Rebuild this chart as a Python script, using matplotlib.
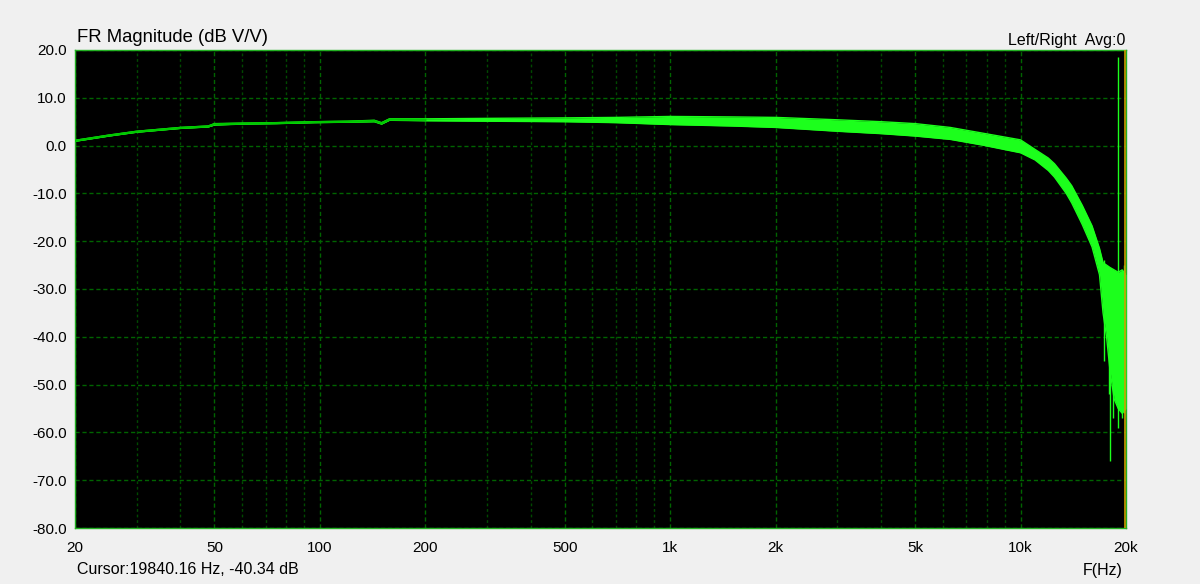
"""
Frequency response magnitude plot (dB V/V), log frequency axis 20 Hz - 20 kHz.
"""

import matplotlib
matplotlib.use("Agg")
import matplotlib.pyplot as plt
from matplotlib.ticker import FixedLocator, NullFormatter

plt.rcParams["font.family"] = ["Liberation Sans", "DejaVu Sans"]

# ── Data: upper / lower edge of the trace ──
freq_hz = [20, 25, 30, 40, 48, 50, 60, 75, 96, 120, 143, 150, 158, 200, 300,
           500, 700, 1000, 1500, 2000, 3000, 4000, 5000, 6300, 7800, 10000,
           11000, 12000, 12500, 13500, 14000, 15000, 16000, 16800, 17200,
           17600, 18000, 18500, 19000, 19500, 20000]
mag_hi = [1.1, 2.2, 3.0, 3.8, 4.1, 4.6, 4.7, 4.8, 5.0, 5.1, 5.3, 4.8, 5.6, 5.6,
          5.7, 5.8, 5.9, 6.1, 6.0, 5.9, 5.4, 5.0, 4.6, 3.8, 2.6, 1.2,
          -0.8, -2.6, -3.8, -6.8, -8.4, -12.5, -16.8, -21.5, -24.5,
          -25.0, -25.5, -26.0, -26.5, -26.0, -27.0]
mag_lo = [0.9, 2.0, 2.8, 3.6, 3.9, 4.3, 4.5, 4.6, 4.8, 4.9, 5.0, 4.5, 5.3, 5.2,
          5.1, 5.0, 4.8, 4.4, 4.1, 3.8, 3.0, 2.5, 2.0, 1.3, 0.1, -1.5,
          -3.0, -5.2, -6.6, -10.0, -12.0, -16.5, -21.2, -27.0, -35.0,
          -40.0, -47.0, -53.0, -55.0, -56.0, -55.0]

# isolated spikes in the roll-off region
spike_hz = [17300, 17900, 18020, 18400, 18990, 19500, 19800]
spike_top = [-24.0, -30.0, -30.0, -28.0, 18.5, -27.0, -25.0]
spike_bot = [-45.0, -52.0, -66.0, -57.0, -59.0, -57.0, -56.0]

cursor_hz = 19840.16
cursor_db = -40.34

x_ticks = [20, 50, 100, 200, 500, 1000, 2000, 5000, 10000, 20000]
x_labels = ["20", "50", "100", "200", "500", "1k", "2k", "5k", "10k", "20k"]
x_minor = [30, 40, 60, 70, 80, 90, 300, 400, 600, 700, 800, 900,
           3000, 4000, 6000, 7000, 8000, 9000]
y_ticks = list(range(-80, 21, 10))

W, H = 1200, 584
fig = plt.figure(figsize=(W / 100, H / 100), dpi=100, facecolor="#f0f0f0")
ax = fig.add_axes([75 / W, 1 - 528 / H, (1126 - 75) / W, (528 - 50) / H])
ax.set_facecolor("black")

trace = "#1cff1c"
ax.fill_between(freq_hz, mag_lo, mag_hi, color=trace, linewidth=0, zorder=3)
ax.plot(freq_hz, mag_hi, color=trace, linewidth=1.0, zorder=3)
ax.plot(freq_hz, mag_lo, color=trace, linewidth=1.0, zorder=3)
ax.vlines(spike_hz, spike_bot, spike_top, color=trace, linewidth=1.0, zorder=3)

# the quiet low-frequency part is drawn as a thinner, darker line
n_low = freq_hz.index(300)
low_mid = [(a + b) / 2 for a, b in zip(mag_hi[:n_low], mag_lo[:n_low])]
ax.plot(freq_hz[:n_low], low_mid, color="#00c800", linewidth=1.6, zorder=4)

# cursor marker
ax.axvline(cursor_hz, color="#c8a000", linewidth=1.2, zorder=4)

ax.set_xscale("log")
ax.set_xlim(20, 20000)
ax.set_ylim(-80, 20)

ax.xaxis.set_major_locator(FixedLocator(x_ticks))
ax.xaxis.set_minor_locator(FixedLocator(x_minor))
ax.xaxis.set_minor_formatter(NullFormatter())
ax.set_xticklabels(x_labels)
ax.set_yticks(y_ticks)
ax.set_yticklabels([f"{v:.1f}" for v in y_ticks])

ax.tick_params(which="both", length=0, labelsize=11, colors="black")
ax.tick_params(axis="x", pad=9)
ax.tick_params(axis="y", pad=6)

ax.grid(True, which="major", axis="both", color="#006400", linewidth=1.0,
        linestyle=(0, (3, 2)))
ax.grid(True, which="minor", axis="x", color="#004a00", linewidth=1.0,
        linestyle=(0, (2, 2)))
ax.set_axisbelow(True)

for s in ax.spines.values():
    s.set_color("#22b022")
    s.set_linewidth(1.0)

fig.text(77 / W, 1 - 37 / H, "FR Magnitude (dB V/V)", fontsize=13.3,
         ha="left", va="center")
fig.text(1125 / W, 1 - 41 / H, "Left/Right  Avg:0", fontsize=11.5,
         ha="right", va="center")
fig.text(77 / W, 1 - 570 / H,
         f"Cursor:{cursor_hz:.2f} Hz, {cursor_db:.2f} dB", fontsize=11.5,
         ha="left", va="center")
fig.text(1103 / W, 1 - 570 / H, "F(Hz)", fontsize=11.5,
         ha="center", va="center")

fig.savefig("out.png", dpi=100, facecolor=fig.get_facecolor())
